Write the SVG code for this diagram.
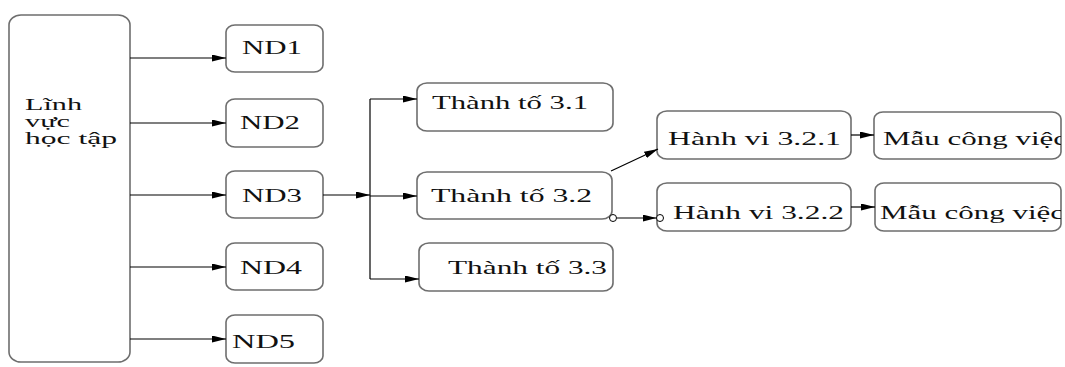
<svg xmlns="http://www.w3.org/2000/svg" width="1065" height="367" viewBox="0 0 1065 367">
  <style>
    .box { fill: #ffffff; stroke: #6e6e6e; stroke-width: 1.6; }
    .lbl { font-family: "Liberation Serif", "Times New Roman", serif; font-size: 18px; fill: #111111; }
    .lbl.small { font-size: 16.5px; }
    .wire { fill: none; stroke: #000000; stroke-width: 1.2; }
    .knob { fill: #ffffff; stroke: #000000; stroke-width: 1; }
  </style>
  <defs>
    <marker id="arrow" viewBox="0 0 14 7" refX="14" refY="3.5" markerWidth="14" markerHeight="7" markerUnits="userSpaceOnUse" orient="auto">
      <path d="M0,0 L14,3.5 L0,7 Z" fill="#000000"/>
    </marker>
    <clipPath id="clipMau1"><rect x="874" y="112" width="187" height="47" rx="9" ry="7"/></clipPath>
    <clipPath id="clipMau2"><rect x="875" y="183" width="186" height="48" rx="9" ry="7"/></clipPath>
  </defs>

  <g id="linh-vuc">
    <rect class="box" x="9" y="15" width="121" height="347" rx="12" ry="10"/>
    <text class="lbl small" x="25" y="110" textLength="57" lengthAdjust="spacingAndGlyphs">Lĩnh</text>
    <text class="lbl small" x="25" y="127" textLength="45" lengthAdjust="spacingAndGlyphs">vực</text>
    <text class="lbl small" x="25" y="144" textLength="92" lengthAdjust="spacingAndGlyphs">học tập</text>
  </g>

  <g id="nd1">
    <rect class="box" x="226" y="25" width="97" height="47" rx="9" ry="7"/>
    <text class="lbl" x="242" y="54" textLength="60" lengthAdjust="spacingAndGlyphs">ND1</text>
  </g>
  <g id="nd2">
    <rect class="box" x="226" y="99" width="97" height="48" rx="9" ry="7"/>
    <text class="lbl" x="240" y="129" textLength="60" lengthAdjust="spacingAndGlyphs">ND2</text>
  </g>
  <g id="nd3">
    <rect class="box" x="226" y="171" width="97" height="47" rx="9" ry="7"/>
    <text class="lbl" x="242" y="202" textLength="60" lengthAdjust="spacingAndGlyphs">ND3</text>
  </g>
  <g id="nd4">
    <rect class="box" x="226" y="243" width="97" height="47" rx="9" ry="7"/>
    <text class="lbl" x="240" y="274" textLength="62" lengthAdjust="spacingAndGlyphs">ND4</text>
  </g>
  <g id="nd5">
    <rect class="box" x="226" y="315" width="97" height="48" rx="9" ry="7"/>
    <text class="lbl" x="232" y="348" textLength="63" lengthAdjust="spacingAndGlyphs">ND5</text>
  </g>

  <g id="thanh-to-3-1">
    <rect class="box" x="417" y="83" width="196" height="48" rx="10" ry="8"/>
    <text class="lbl" x="432" y="109" textLength="156" lengthAdjust="spacingAndGlyphs">Thành tố 3.1</text>
  </g>
  <g id="thanh-to-3-2">
    <rect class="box" x="417" y="172" width="195" height="47" rx="10" ry="8"/>
    <text class="lbl" x="431" y="202" textLength="161" lengthAdjust="spacingAndGlyphs">Thành tố 3.2</text>
  </g>
  <g id="thanh-to-3-3">
    <rect class="box" x="419" y="243" width="194" height="48" rx="10" ry="8"/>
    <text class="lbl" x="448" y="274" textLength="159" lengthAdjust="spacingAndGlyphs">Thành tố 3.3</text>
  </g>

  <g id="hanh-vi-3-2-1">
    <rect class="box" x="657" y="111" width="194" height="48" rx="10" ry="8"/>
    <text class="lbl" x="668" y="145" textLength="173" lengthAdjust="spacingAndGlyphs">Hành vi 3.2.1</text>
  </g>
  <g id="hanh-vi-3-2-2">
    <rect class="box" x="657" y="183" width="194" height="48" rx="10" ry="8"/>
    <text class="lbl" x="673" y="219" textLength="171" lengthAdjust="spacingAndGlyphs">Hành vi 3.2.2</text>
  </g>

  <g id="mau-cong-viec-1">
    <rect class="box" x="874" y="112" width="187" height="47" rx="9" ry="7"/>
    <text class="lbl" x="883" y="145" textLength="184" lengthAdjust="spacingAndGlyphs" clip-path="url(#clipMau1)">Mẫu công việc</text>
  </g>
  <g id="mau-cong-viec-2">
    <rect class="box" x="875" y="183" width="186" height="48" rx="9" ry="7"/>
    <text class="lbl" x="880" y="219" textLength="184" lengthAdjust="spacingAndGlyphs" clip-path="url(#clipMau2)">Mẫu công việc</text>
  </g>

  <!-- connectors, drawn over the box edges so the end knobs stay visible -->
  <g id="connectors">
    <path class="wire" d="M130,58 H226" marker-end="url(#arrow)"/>
    <path class="wire" d="M130,123 H226" marker-end="url(#arrow)"/>
    <path class="wire" d="M130,195 H226" marker-end="url(#arrow)"/>
    <path class="wire" d="M130,267 H226" marker-end="url(#arrow)"/>
    <path class="wire" d="M130,339 H226" marker-end="url(#arrow)"/>
    <path class="wire" d="M323,195 H370" marker-end="url(#arrow)"/>
    <path class="wire" d="M370,99 V279"/>
    <path class="wire" d="M370,99 H417" marker-end="url(#arrow)"/>
    <path class="wire" d="M370,196 H417" marker-end="url(#arrow)"/>
    <path class="wire" d="M370,279 H419" marker-end="url(#arrow)"/>
    <path class="wire" d="M611,171 L658,149" marker-end="url(#arrow)"/>
    <path class="wire" d="M617,218 H656.5" marker-end="url(#arrow)"/>
    <circle class="knob" cx="613" cy="218" r="3.5"/>
    <circle class="knob" cx="660" cy="218" r="3.5"/>
    <path class="wire" d="M851,135 H874" marker-end="url(#arrow)"/>
    <path class="wire" d="M851,207 H875" marker-end="url(#arrow)"/>
  </g>
</svg>
